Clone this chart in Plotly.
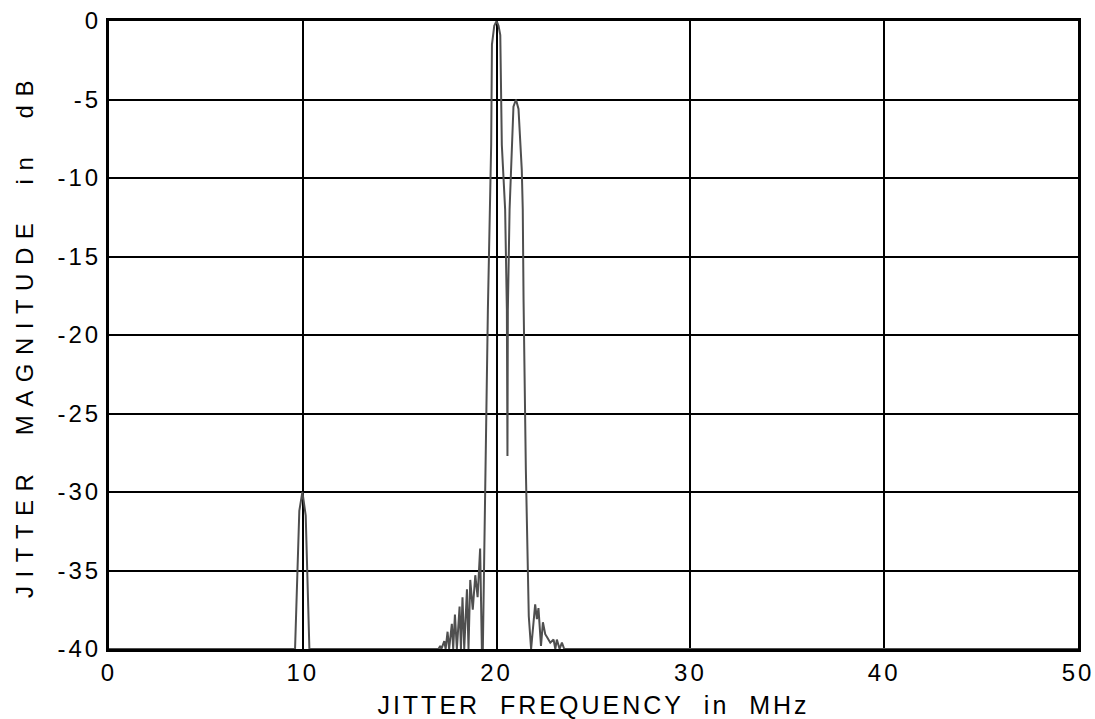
import plotly.graph_objects as go

# Jitter spectrum (MHz, dB)
freq_mhz = [0, 9.6, 9.82, 9.98, 10.15, 10.3, 10.34,
            17.0, 17.09, 17.15, 17.3, 17.37, 17.47, 17.55, 17.69, 17.76, 17.85, 17.95,
            18.09, 18.16, 18.24, 18.33, 18.47, 18.55, 18.64, 18.77, 18.9, 19.02, 19.15,
            19.24, 19.29, 19.55, 19.72, 19.76, 19.88, 20.0, 20.1, 20.19, 20.27, 20.44,
            20.53, 20.56, 20.58, 20.67, 20.82, 20.87, 21.0, 21.13, 21.3, 21.35, 21.39,
            21.51, 21.66, 21.78, 21.99, 22.08, 22.16, 22.29, 22.39, 22.51, 22.63, 22.77,
            22.94, 23.03, 23.11, 23.25, 23.37, 23.49, 50]
magnitude_db = [-40, -40, -31.2, -30.0, -31.5, -37.5, -40,
                -40, -39.8, -40, -39.5, -40, -38.9, -40, -38.4, -40, -37.8, -40,
                -37.3, -40, -36.7, -40, -36.2, -40, -35.6, -37.5, -35.3, -36.7, -33.6,
                -40, -40, -18.4, -7.9, -1.5, -0.3, 0.0, -0.3, -0.9, -7.9, -12.0,
                -18.4, -27.7, -18.4, -12.0, -7.6, -5.45, -5.0, -5.6, -9.5, -12.0, -17.7,
                -28.6, -37.9, -40, -37.15, -38.1, -37.4, -39.8, -38.3, -39.06, -39.3, -39.6,
                -39.4, -40, -39.4, -40, -39.6, -40, -40]

x_ticks = [0, 10, 20, 30, 40, 50]
y_ticks = [0, -5, -10, -15, -20, -25, -30, -35, -40]
x_title = "JITTER\u00a0\u00a0FREQUENCY\u00a0\u00a0in\u00a0\u00a0MHz"
y_title = "JITTER\u00a0\u00a0MAGNITUDE\u00a0\u00a0in\u00a0\u00a0dB"

fig = go.Figure()
fig.add_trace(go.Scatter(x=freq_mhz, y=magnitude_db, mode="lines",
                         line=dict(color="#4f4f4f", width=2), showlegend=False))

font = "Liberation Sans, Arial, sans-serif"
fig.update_layout(
    width=1095, height=719,
    margin=dict(l=109, r=17, t=21, b=70),
    paper_bgcolor="white", plot_bgcolor="white",
    font=dict(family=font, color="black", size=24),
)
fig.update_xaxes(
    range=[0, 50], tickvals=x_ticks, ticktext=[str(v) for v in x_ticks],
    showgrid=True, gridcolor="black", gridwidth=2,
    showline=True, linecolor="black", linewidth=3, mirror=True,
    zeroline=False, ticks="", layer="above traces", automargin=False,
    tickfont=dict(size=24, family=font, color="black"),
    title=dict(text=x_title, font=dict(size=25, family=font, color="black"), standoff=15),
)
fig.update_yaxes(
    range=[-40, 0], tickvals=y_ticks, ticktext=[str(v) for v in y_ticks],
    showgrid=True, gridcolor="black", gridwidth=2,
    showline=True, linecolor="black", linewidth=3, mirror=True,
    zeroline=False, ticks="", layer="above traces", automargin=False,
    tickfont=dict(size=24, family=font, color="black"),
    title=dict(text=y_title, font=dict(size=24, family=font, color="black"), standoff=27),
)

post = """
var gd = document.getElementById('{plot_id}');
gd.querySelectorAll('.xtitle').forEach(function(e){e.style.letterSpacing='3px';});
gd.querySelectorAll('.ytitle').forEach(function(e){e.style.letterSpacing='8.5px';});
gd.querySelectorAll('.xtick text, .ytick text').forEach(function(e){e.style.letterSpacing='3px';});
"""
fig.write_html("out.html", post_script=post)
